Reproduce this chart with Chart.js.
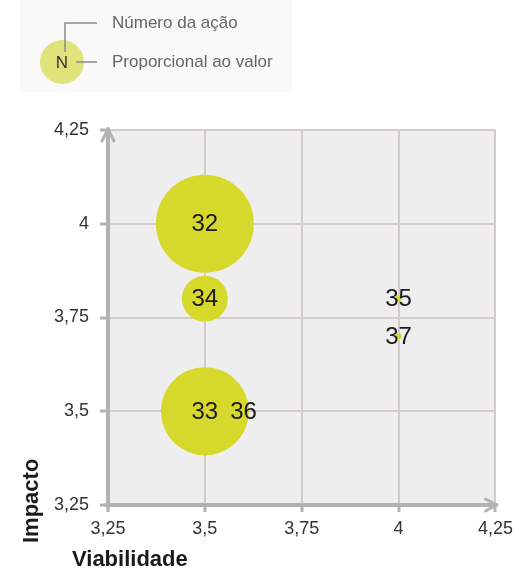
<!DOCTYPE html>
<html>
<head>
<meta charset="utf-8">
<script src="https://cdn.jsdelivr.net/npm/chart.js@4"></script>
<style>
  html, body { margin: 0; padding: 0; background: #fff; }
  #wrap { width: 519px; height: 568px; }
</style>
</head>
<body>
<div id="wrap"><canvas id="bolhas" width="519" height="568"></canvas></div>
<script>
// números das ações e valores
const acoes = ['32', '34', '33', '36', '35', '37'];
const viabilidade = [3.5, 3.5, 3.5, 3.6, 4, 4];
const impacto = [4, 3.8, 3.5, 3.5, 3.8, 3.7];
const valores = [49, 23, 44, 1, 3, 3]; // raio proporcional ao valor
const xTicks = ['3,25', '3,5', '3,75', '4', '4,25'];
const yTicks = ['3,25', '3,5', '3,75', '4', '4,25'];

const fonte = '"Liberation Sans", Arial, sans-serif';
const corEixo = '#b4b2b1';

const pontos = acoes.map((a, i) => ({ x: viabilidade[i], y: impacto[i], r: valores[i] }));

const extras = {
  id: 'extras',
  beforeDraw(chart) {
    const { ctx, chartArea: a } = chart;
    ctx.save();
    ctx.fillStyle = '#fff';
    ctx.fillRect(0, 0, chart.width, chart.height);
    ctx.fillStyle = '#eeeeee';
    ctx.fillRect(a.left, a.top, a.right - a.left, a.bottom - a.top);

    // legenda
    ctx.fillStyle = '#f9f9f9';
    ctx.fillRect(20, 0, 272, 92);
    ctx.fillStyle = '#e0e37a';
    ctx.beginPath();
    ctx.arc(62, 62, 22, 0, Math.PI * 2);
    ctx.fill();
    ctx.strokeStyle = '#8c8c8c';
    ctx.lineWidth = 1.5;
    ctx.beginPath();
    ctx.moveTo(65, 52); ctx.lineTo(65, 23); ctx.lineTo(97, 23);
    ctx.moveTo(76, 62); ctx.lineTo(97, 62);
    ctx.stroke();
    ctx.fillStyle = '#333';
    ctx.font = '17px ' + fonte;
    ctx.textAlign = 'center';
    ctx.textBaseline = 'middle';
    ctx.fillText('N', 62, 63);
    ctx.fillStyle = '#666';
    ctx.textAlign = 'left';
    ctx.fillText('Número da ação', 112, 23);
    ctx.fillText('Proporcional ao valor', 112, 62);
    ctx.restore();
  },
  beforeDatasetsDraw(chart) {
    const { ctx, chartArea: a } = chart;
    ctx.save();
    ctx.strokeStyle = corEixo;
    ctx.lineWidth = 4;
    ctx.lineCap = 'round';
    ctx.lineJoin = 'round';
    ctx.beginPath();
    ctx.moveTo(a.left, a.bottom + 2);
    ctx.lineTo(a.left, a.top - 1);
    ctx.moveTo(a.left - 2, a.bottom);
    ctx.lineTo(a.right + 1, a.bottom);
    ctx.stroke();
    ctx.lineWidth = 3;
    ctx.beginPath();
    ctx.moveTo(a.left - 6, a.top + 11);
    ctx.lineTo(a.left, a.top - 1);
    ctx.lineTo(a.left + 6, a.top + 11);
    ctx.moveTo(a.right - 10, a.bottom - 6);
    ctx.lineTo(a.right + 1, a.bottom);
    ctx.lineTo(a.right - 10, a.bottom + 6);
    ctx.stroke();

    // títulos dos eixos
    ctx.fillStyle = '#1a1a1a';
    ctx.font = 'bold 22px ' + fonte;
    ctx.textAlign = 'left';
    ctx.textBaseline = 'alphabetic';
    ctx.fillText('Viabilidade', 72, 566);
    ctx.translate(38, 543);
    ctx.rotate(-Math.PI / 2);
    ctx.fillText('Impacto', 0, 0);
    ctx.restore();
  },
  afterDatasetsDraw(chart) {
    const { ctx } = chart;
    const meta = chart.getDatasetMeta(0);
    ctx.save();
    ctx.fillStyle = '#1a1a1a';
    ctx.font = '24px ' + fonte;
    ctx.textAlign = 'center';
    ctx.textBaseline = 'middle';
    meta.data.forEach((el, i) => {
      ctx.fillText(acoes[i], el.x, el.y + 1);
    });
    ctx.restore();
  }
};

new Chart('bolhas', {
  type: 'bubble',
  data: {
    datasets: [{
      label: 'Ações',
      data: pontos,
      backgroundColor: '#d6d92b',
      borderWidth: 0,
      clip: false
    }]
  },
  options: {
    responsive: false,
    animation: false,
    events: [],
    layout: { autoPadding: false, padding: { left: 0, top: 130, right: 21, bottom: 0 } },
    plugins: {
      legend: { display: false },
      tooltip: { enabled: false }
    },
    scales: {
      x: {
        type: 'linear',
        min: 3.25,
        max: 4.25,
        afterFit(s) { s.height = 63; },
        border: { display: false },
        grid: { color: '#d2cbc7', lineWidth: 2, tickColor: corEixo, tickWidth: 3, tickLength: 7 },
        ticks: {
          stepSize: 0.25,
          padding: 6,
          color: '#333',
          font: { family: fonte, size: 18 },
          callback: (v, i) => xTicks[i]
        }
      },
      y: {
        type: 'linear',
        min: 3.25,
        max: 4.25,
        afterFit(s) { s.width = 108; },
        border: { display: false },
        grid: { color: '#d2cbc7', lineWidth: 2, tickColor: corEixo, tickWidth: 3, tickLength: 8 },
        ticks: {
          stepSize: 0.25,
          padding: 11,
          color: '#333',
          font: { family: fonte, size: 18 },
          callback: (v, i) => yTicks[i]
        }
      }
    }
  },
  plugins: [extras]
});
</script>
</body>
</html>
